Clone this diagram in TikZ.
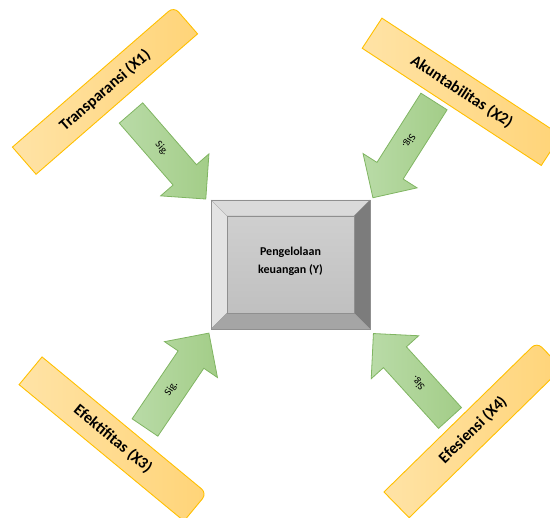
\documentclass[tikz,border=0pt]{standalone}
\usepackage{fontspec}
\setmainfont{Carlito}
\usetikzlibrary{calc}
\definecolor{bandA}{HTML}{FFE3A6}
\definecolor{bandB}{HTML}{FFD478}
\definecolor{bandLine}{HTML}{FFC000}
\definecolor{arrA}{HTML}{B9DBA7}
\definecolor{arrB}{HTML}{A3CD88}
\definecolor{arrLine}{HTML}{80B562}
\definecolor{bevTop}{HTML}{DADADA}
\definecolor{bevLeft}{HTML}{E3E3E3}
\definecolor{bevRight}{HTML}{7C7C7C}
\definecolor{bevBottom}{HTML}{A5A5A5}
\definecolor{faceA}{HTML}{CFCFCF}
\definecolor{faceB}{HTML}{C0C0C0}
\definecolor{boxLine}{HTML}{8F8F8F}
\tikzset{
  bandshape/.style={draw=bandLine, line width=0.9pt, left color=bandA, right color=bandB},
  bandtext/.style={font=\bfseries\fontsize{16}{19}\selectfont, text=black, inner sep=0pt},
  arrowshape/.style={draw=arrLine, line width=0.8pt, left color=arrA, right color=arrB},
  sigtext/.style={font=\fontsize{10.5}{12}\selectfont, text=black, inner sep=0pt},
  boxtext/.style={font=\bfseries\fontsize{12}{18}\selectfont, text=black, align=center, inner sep=0pt},
  bandpic/.pic={\path[bandshape] (-107,-18) -- (107,-18) -- (107,11)
      arc[start angle=0, end angle=90, radius=7pt] -- (-107,18) -- cycle;},
  arrowpic/.pic={\path[arrowshape] (0,-15.5) -- (82,-15.5) -- (82,-32) -- (114,0)
      -- (82,32) -- (82,15.5) -- (0,15.5) -- cycle;},
}
\begin{document}
\begin{tikzpicture}[x=1pt, y=1pt]
\useasboundingbox (0,0) rectangle (550,518);
\clip (0,0) rectangle (550,518);

% bands
\pic[rotate=41] at (105,427.5) {bandpic};
\node[bandtext, rotate=41] (x1) at (105,427.5) {Transparansi (X1)};
\pic[rotate=-33.2] at (461.6,426.2) {bandpic};
\node[bandtext, rotate=-33.2] (x2) at (461.6,426.2) {Akuntabilitas (X2)};
\pic[rotate=-39.6] at (113,79) {bandpic};
\node[bandtext, rotate=-39.6] (x3) at (113,79) {Efektifitas (X3)};
\pic[rotate=44.4] at (473,88) {bandpic};
\node[bandtext, rotate=44.4] (x4) at (473,88) {Efesiensi (X4)};

% arrows
\coordinate (a1) at (131,405);
\coordinate (a2) at (434,416.5);
\coordinate (a3) at (145,90.5);
\coordinate (a4) at (450,100);
\pic[rotate=-49] at (a1) {arrowpic};
\pic[rotate=-122.4] at (a2) {arrowpic};
\pic[rotate=55.9] at (a3) {arrowpic};
\pic[rotate=132.2] at (a4) {arrowpic};
\node[sigtext, rotate=-49] (s1) at ($(a1)+(-49:47pt)$) {Sig.};
\node[sigtext, rotate=-122.4] (s2) at ($(a2)+(-122.4:47pt)$) {Sig.};
\node[sigtext, rotate=55.9] (s3) at ($(a3)+(55.9:47pt)$) {Sig.};
\node[sigtext, rotate=132.2] (s4) at ($(a4)+(132.2:47pt)$) {Sig.};

% central bevel box
\node[minimum width=159pt, minimum height=129pt, inner sep=0pt, outer sep=0pt] (box) at (290.5,253.5) {};
\coordinate (inw) at ($(box.north west)+(16,-16)$);
\coordinate (ine) at ($(box.north east)+(-16,-16)$);
\coordinate (isw) at ($(box.south west)+(16,16)$);
\coordinate (ise) at ($(box.south east)+(-16,16)$);
\fill[bevTop] (box.north west) -- (box.north east) -- (ine) -- (inw) -- cycle;
\fill[bevLeft] (box.north west) -- (inw) -- (isw) -- (box.south west) -- cycle;
\fill[bevRight] (box.north east) -- (box.south east) -- (ise) -- (ine) -- cycle;
\fill[bevBottom] (box.south west) -- (isw) -- (ise) -- (box.south east) -- cycle;
\shade[top color=faceA, bottom color=faceB] (inw) rectangle (ise);
\draw[boxLine, line width=0.3pt] (box.north west) -- (inw) (box.north east) -- (ine)
  (box.south west) -- (isw) (box.south east) -- (ise);
\draw[boxLine, line width=0.3pt] (inw) rectangle (ise);
\draw[boxLine, line width=0.8pt] (box.north west) rectangle (box.south east);
\node[boxtext] (y) at ($(box.center)+(0,3)$) {Pengelolaan\\keuangan (Y)};
\end{tikzpicture}
\end{document}
